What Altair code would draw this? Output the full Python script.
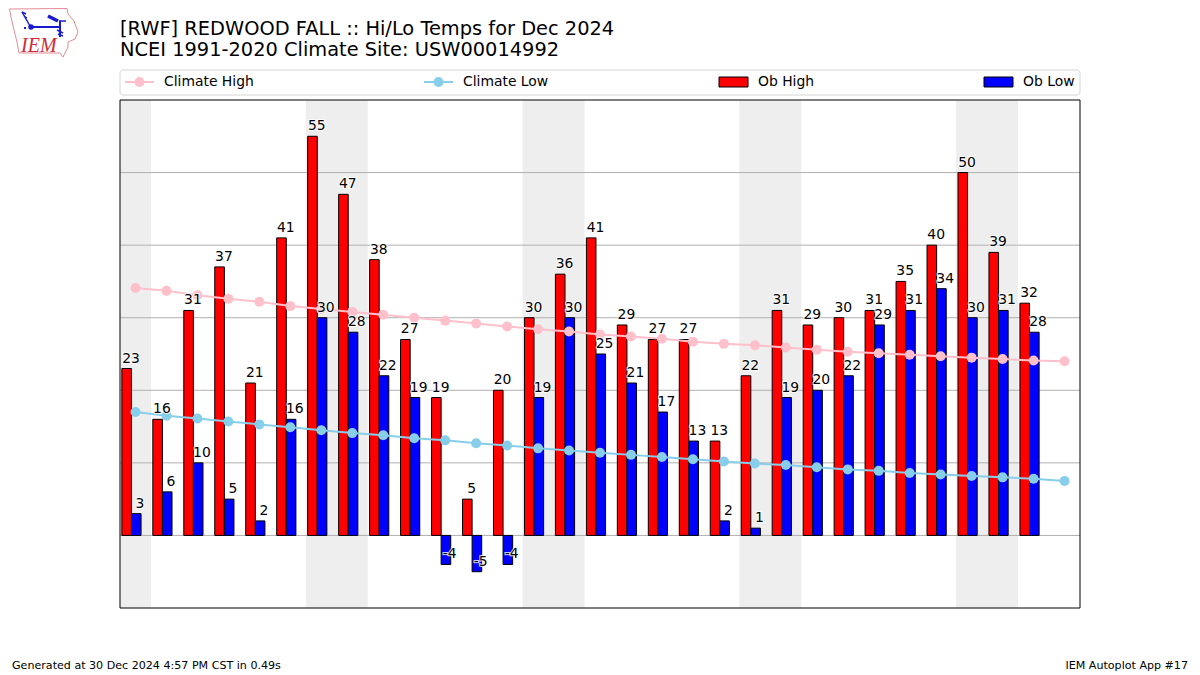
import altair as alt
import pandas as pd

days = list(range(1, 32))
ob_high = [23,16,31,37,21,41,55,47,38,27,19,5,20,30,36,41,29,27,27,13,22,31,29,30,31,35,40,50,39,32]
ob_low = [3,6,10,5,2,16,30,28,22,19,-4,-5,-4,19,30,25,21,17,13,2,1,19,20,22,29,31,34,30,31,28]
clim_high = [34.1,33.7,33.1,32.6,32.2,31.6,31.2,30.8,30.4,30.0,29.6,29.2,28.8,28.4,28.1,27.7,27.4,27.1,26.7,26.4,26.2,25.9,25.6,25.3,25.1,24.9,24.7,24.5,24.3,24.1,24.0]
clim_low = [17.0,16.5,16.1,15.7,15.3,14.9,14.5,14.1,13.8,13.4,13.1,12.7,12.4,12.0,11.7,11.4,11.1,10.8,10.5,10.2,9.9,9.7,9.4,9.1,8.9,8.6,8.4,8.2,8.0,7.8,7.5]
weekend_start = [0.5, 6.5, 13.5, 20.5, 27.5]
weekend_end = [1.5, 8.5, 15.5, 22.5, 29.5]
y_ticks = list(range(-10, 61, 10))
title_lines = ["[RWF] REDWOOD FALL :: Hi/Lo Temps for Dec 2024", "NCEI 1991-2020 Climate Site: USW00014992"]

FONT = "DejaVu Sans"
FS = 13.9
W, H = 960, 508
x_scale = alt.Scale(domain=[0.5, 31.5], nice=False, zero=False)
y_scale = alt.Scale(domain=[-10, 60], nice=False, zero=False)

obs = pd.DataFrame({"day": days[:30], "high": ob_high, "low": ob_low,
                    "high_s": [str(v) for v in ob_high], "low_s": [str(v) for v in ob_low]})
clim = pd.DataFrame({"day": days, "chigh": clim_high, "clow": clim_low})
shade = pd.DataFrame({"s": weekend_start, "e": weekend_end})
grid = pd.DataFrame({"v": y_ticks[1:-1]})

shade_l = alt.Chart(shade).mark_rect(color="#eeeeee").encode(
    x=alt.X("s:Q", scale=x_scale, axis=alt.Axis(
        values=days, title="December 2024", titleFont=FONT, titleFontSize=16.7, titleFontWeight="normal",
        titleColor="black", labelFont=FONT, labelFontSize=FS, labelColor="black", tickColor="black",
        domainColor="black", tickSize=5, labelPadding=3, titlePadding=7, grid=False, labelFlush=False, labelOverlap=False)),
    x2="e:Q",
    y=alt.value(0), y2=alt.value(H))

grid_l = alt.Chart(grid).mark_rule(color="#b0b0b0", strokeWidth=1).encode(
    y=alt.Y("v:Q", scale=y_scale, axis=alt.Axis(
        values=y_ticks, title="Temperature ° F", titleFont=FONT, titleFontSize=FS, titleFontWeight="normal",
        titleColor="black", labelFont=FONT, labelFontSize=FS, labelColor="black", tickColor="black",
        domainColor="black", tickSize=5, labelPadding=4, titlePadding=11, grid=False)))

def bars(field, color, a, b):
    return alt.Chart(obs).transform_calculate(x0=f"datum.day+({a})", x1=f"datum.day+({b})").mark_bar(
        color=color, stroke="black", strokeWidth=1).encode(
        x=alt.X("x0:Q", scale=x_scale, axis=None), x2="x1:Q",
        y=alt.Y(f"{field}:Q", scale=y_scale, axis=None), y2=alt.datum(0))

def clim_line(field, color):
    enc = dict(x=alt.X("day:Q", scale=x_scale, axis=None), y=alt.Y(f"{field}:Q", scale=y_scale, axis=None))
    return alt.Chart(clim).mark_line(color=color, strokeWidth=2, point=alt.OverlayMarkDef(color=color, filled=True, size=100, opacity=1)).encode(**enc)

def labels(field, dx):
    enc = dict(x=alt.X("day:Q", scale=x_scale, axis=None), y=alt.Y(f"{field}:Q", scale=y_scale, axis=None), text=alt.Text(f"{field}_s:N"))
    common = dict(font=FONT, fontSize=FS, dx=dx, dy=-6, baseline="alphabetic", align="center")
    halo = alt.Chart(obs).mark_text(stroke="white", strokeWidth=2, strokeOpacity=0.8, fill="white", **common).encode(**enc)
    top = alt.Chart(obs).mark_text(color="black", **common).encode(**enc)
    return [halo, top]

frame = alt.Chart().mark_rect(fill="transparent", stroke="black", strokeWidth=1).encode(
    x=alt.value(0), x2=alt.value(W), y=alt.value(0), y2=alt.value(H))

# ---- title as text marks
titles = [
    alt.Chart().mark_text(text=t, font=FONT, fontSize=19.4, align="left", baseline="middle", color="black").encode(
        x=alt.value(0), y=alt.value(yy))
    for t, yy in zip(title_lines, [-71, -50])
]

# ---- legend drawn as a strip above the plot
def ltext(t, x):
    return alt.Chart().mark_text(text=t, font=FONT, fontSize=FS, align="left", baseline="middle", color="black").encode(
        x=alt.value(x), y=alt.value(-18))

leg = [
    alt.Chart().mark_rect(fill="white", stroke="#d5d5d5", strokeWidth=1, cornerRadius=3).encode(
        x=alt.value(0), x2=alt.value(W), y=alt.value(-30), y2=alt.value(-5)),
]
for x0, color, name in [(5, "#ffc0cb", "Climate High"), (304, "#87ceeb", "Climate Low")]:
    leg.append(alt.Chart().mark_rule(color=color, strokeWidth=2).encode(
        x=alt.value(x0), x2=alt.value(x0 + 29), y=alt.value(-18)))
    leg.append(alt.Chart().mark_point(color=color, filled=True, size=100, opacity=1).encode(
        x=alt.value(x0 + 14.5), y=alt.value(-18)))
    leg.append(ltext(name, x0 + 39))
for x0, color, name in [(599, "red", "Ob High"), (864, "blue", "Ob Low")]:
    leg.append(alt.Chart().mark_rect(fill=color, stroke="black", strokeWidth=1, cornerRadius=0).encode(
        x=alt.value(x0), x2=alt.value(x0 + 29), y=alt.value(-23), y2=alt.value(-13)))
    leg.append(ltext(name, x0 + 39))

# ---- footer
foot = [
    alt.Chart().mark_text(text="Generated at 30 Dec 2024 4:57 PM CST in 0.49s", font=FONT, fontSize=11.1, align="left",
                          baseline="middle", color="black").encode(x=alt.value(-108), y=alt.value(566)),
    alt.Chart().mark_text(text="IEM Autoplot App #17", font=FONT, fontSize=11.1, align="right",
                          baseline="middle", color="black").encode(x=alt.value(1068), y=alt.value(566)),
]

# ---- logo (outline and weather-station glyph, page pixels relative to plot origin)
OX, OY = 120, 100
outline = [(9.5,9),(67,8.5),(68,14),(74,21),(78,32),(75,39),(68,42),(68,47),(63,57),(60,53),(19,53),(17,42),(14,30),(11,17),(9.5,9)]
glyph_lines = [
    ([(22,12),(30,26)], 1.5), ([(22,12),(26,14)], 1.5), ([(24,16),(27,18)], 1.2),
    ([(31,27),(59,27)], 2), ([(59,21),(66,21)], 1.5), ([(60,21),(60,37)], 2),
    ([(57,30),(63,33)], 1.5), ([(58,34),(63,36)], 1.5),
    ([(48,16),(58,21)], 3.5), ([(24,28),(26,28)], 2),
]
def pts(points):
    return pd.DataFrame({"px": [p[0] - OX for p in points], "py": [p[1] - OY for p in points], "i": range(len(points))})

def pline(points, color, w):
    return alt.Chart(pts(points)).mark_line(color=color, strokeWidth=w, interpolate="linear").encode(
        x=alt.X("px:Q", scale=None), y=alt.Y("py:Q", scale=None), order="i:Q")

logo = [pline(outline, "#e58a94", 1)]
logo += [pline(p, "#1a1ad0", w) for p, w in glyph_lines]
logo.append(alt.Chart().mark_point(color="#1a1ad0", filled=True, size=30, opacity=1).encode(
    x=alt.value(31 - OX), y=alt.value(27 - OY)))
logo.append(alt.Chart().mark_text(text="IEM", font="Liberation Serif", fontStyle="italic", fontSize=20, color="#d42a35",
                                  align="left", baseline="alphabetic").encode(x=alt.value(21 - OX), y=alt.value(52 - OY)))

layers = [shade_l, grid_l, bars("high", "red", -0.44, -0.13), bars("low", "blue", -0.13, 0.18),
          clim_line("chigh", "#ffc0cb"), clim_line("clow", "#87ceeb")]
layers += labels("high", -4.5) + labels("low", 4.5)
layers += [frame] + titles + leg + foot + logo

chart = alt.layer(*layers).properties(
    width=W, height=H,
    padding={"left": 112, "top": 92, "right": 112, "bottom": 67},
    autosize=alt.AutoSizeParams(type="none"),
).configure_view(stroke=None)

chart.save("out.html", embed_options={"renderer": "svg", "actions": False})
